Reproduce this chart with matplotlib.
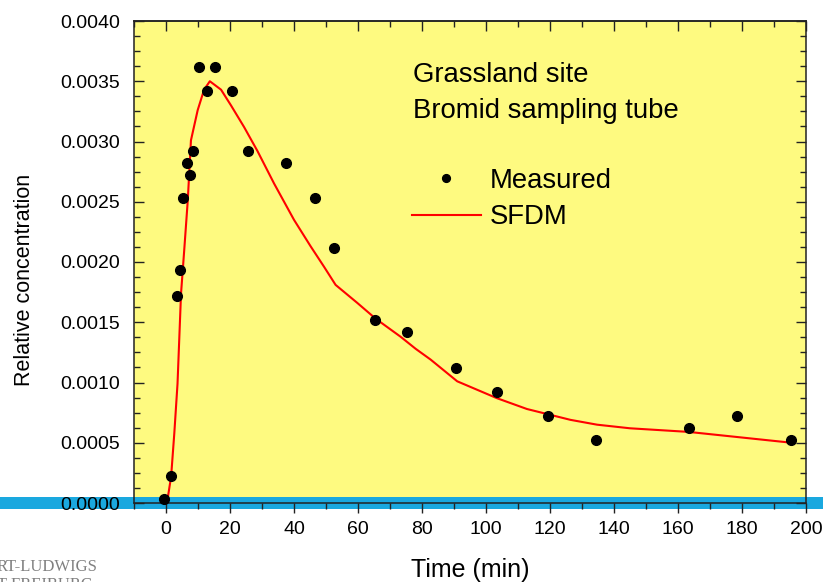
import numpy as np
import matplotlib
matplotlib.use("Agg")
import matplotlib.pyplot as plt
from matplotlib.patches import Rectangle
from matplotlib.ticker import FormatStrFormatter

# measured bromide concentrations
t_meas = [-0.5, 1.5, 3.4, 4.4, 5.4, 6.5, 7.6, 8.5, 10.4, 12.8, 15.4, 20.5,
          25.5, 37.5, 46.6, 52.4, 65.2, 75.2, 90.5, 103.3, 119.5, 134.5,
          163.5, 178.5, 195.3]
c_meas = [0.00003, 0.00022, 0.00172, 0.00193, 0.00253, 0.00282, 0.00272,
          0.00292, 0.00362, 0.00342, 0.00362, 0.00342, 0.00292, 0.00282,
          0.00253, 0.00212, 0.00152, 0.00142, 0.00112, 0.00092, 0.00072,
          0.00052, 0.00062, 0.00072, 0.00052]

# SFDM model curve
t_model = [0.3, 1.6, 2.6, 3.6, 4.7, 5.7, 6.8, 7.8, 9.9, 11.9, 13.7, 17.2,
           20.3, 24.4, 28.6, 33.8, 40.0, 45.2, 49.4, 53.0, 59.8, 65.5, 73.3,
           78.0, 82.7, 91.0, 103.4, 112.8, 126.4, 134.7, 145.0, 163.3, 195.5]
c_model = [0.0, 0.00022, 0.00058, 0.00099, 0.00174, 0.0021, 0.00251, 0.00301,
           0.00326, 0.00343, 0.0035, 0.00343, 0.0033, 0.00312, 0.00292,
           0.00265, 0.00235, 0.00213, 0.00196, 0.00181, 0.00166, 0.00153,
           0.00138, 0.00128, 0.00119, 0.00101, 0.00087, 0.00078, 0.00069,
           0.00065, 0.00062, 0.00059, 0.0005]

x_major = np.arange(0, 201, 20)
x_minor = np.arange(-10, 201, 10)
y_major = np.arange(0, 0.00401, 0.0005)
y_minor = np.arange(0, 0.00401, 0.000125)

plt.rcParams['font.family'] = ['Liberation Sans', 'DejaVu Sans']

fig = plt.figure(figsize=(8.23, 5.82), dpi=100)
ax = fig.add_axes([134 / 823, 1 - 503 / 582, 672 / 823, 482 / 582])
ax.set_facecolor('#fefa80')

# blue band across the bottom of the slide
band = Rectangle((0, 1 - 509 / 582), 1, 12 / 582, transform=fig.transFigure,
                 facecolor='#1aa8df', edgecolor='none', clip_on=False, zorder=1)
ax.add_patch(band)

ax.plot(t_model, c_model, color='#ff0000', linewidth=1.5, label='SFDM', zorder=3)
ax.plot(t_meas, c_meas, 'o', color='black', markersize=7, label='Measured',
        zorder=4, clip_on=False)

ax.set_xlim(-10, 200)
ax.set_ylim(0, 0.004)
ax.set_xticks(x_major)
ax.set_xticks(x_minor, minor=True)
ax.set_yticks(y_major)
ax.set_yticks(y_minor, minor=True)
ax.yaxis.set_major_formatter(FormatStrFormatter('%.4f'))

for s in ax.spines.values():
    s.set_color('#222222')
    s.set_linewidth(1.1)

ax.tick_params(axis='x', which='both', direction='out', labelsize=14, pad=6,
               color='#222222')
ax.tick_params(axis='y', which='both', direction='in', right=True,
               labelsize=14, pad=10, color='#222222')
ax.tick_params(which='major', length=7, width=1)
ax.tick_params(which='minor', length=4.5, width=1)

top = ax.secondary_xaxis('top')
top.set_xticks(x_major)
top.set_xticks(x_minor, minor=True)
top.tick_params(which='both', direction='in', labeltop=False, color='#222222')
top.tick_params(which='major', length=7, width=1)
top.tick_params(which='minor', length=4.5, width=1)
top.spines['top'].set_linewidth(1.1)
top.spines['top'].set_color('#222222')

ax.set_xlabel('Time (min)', fontsize=18, labelpad=14)
ax.set_ylabel('Relative concentration', fontsize=15.5)
ax.yaxis.set_label_coords(-0.147, 0.4627)

ax.text(0.415, 0.888, 'Grassland site', transform=ax.transAxes,
        fontsize=19.8, va='center', ha='left')
ax.text(0.415, 0.813, 'Bromid sampling tube', transform=ax.transAxes,
        fontsize=19.8, va='center', ha='left')

handles, labels = ax.get_legend_handles_labels()
ax.legend(handles[::-1], labels[::-1], loc='upper left',
          bbox_to_anchor=(412 / 823, 1 - 168 / 582),
          bbox_transform=fig.transFigure, frameon=False, fontsize=19.8,
          handlelength=2.5, handletextpad=0.33, borderpad=0, borderaxespad=0,
          labelspacing=0.38, markerscale=0.8)

# partial university logo at the bottom left
fig.text(-3 / 823, 1 - 567 / 582, 'RT-LUDWIGS', family='Liberation Serif',
         fontsize=12, color='#808080', va='center', ha='left')
fig.text(-3 / 823, 1 - 585 / 582, 'T FREIBURG', family='Liberation Serif',
         fontsize=12, color='#808080', va='center', ha='left')

fig.savefig('out.png', dpi=100)
